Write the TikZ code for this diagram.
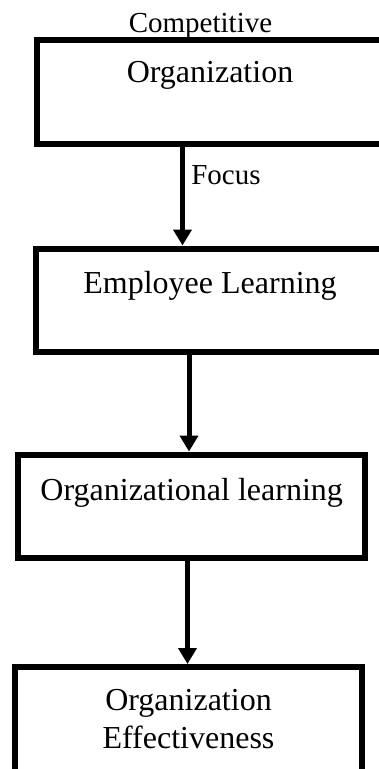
\documentclass[tikz,border=0pt]{standalone}
\usepackage{fontspec}
\setmainfont{Liberation Serif}
\usetikzlibrary{arrows.meta,calc}

\begin{document}
\begin{tikzpicture}[x=1pt, y=-1pt,
    box/.style={draw, line width=6pt, inner sep=0pt, align=center,
                font=\fontsize{32}{38}\selectfont},
    flow/.style={line width=5pt, -{Triangle[width=18pt,length=16pt]}},
    side/.style={font=\fontsize{29}{34}\selectfont}]
            \path[use as bounding box, clip] (0,0) rectangle (379,769);
            \coordinate (C1) at (210,91.75);
            \coordinate (C2) at (210,300.25);
            \coordinate (C3) at (191.7,506.25);
            \coordinate (C4) at (188.5,720);
            \node[box, minimum width=347pt, text height=42pt, text depth=61.5pt] (org) at (C1) {Organization};
            \node[box, minimum width=348pt, text height=44.5pt, text depth=59pt] (emp) at (C2) {Employee Learning};
            \node[box, minimum width=346.7pt, text height=45.5pt, text depth=58pt] (orglearn) at (C3) {Organizational learning};
            \node[box, minimum width=347pt, text height=81pt, text depth=25pt] (eff) at (C4) {Organization\\Effectiveness};
            \node[side, anchor=base] (comp) at (200.5,32) {Competitive};
            % \node[side] at (org.north) {};
            \draw[flow] ([xshift=-27.5pt]org.south) -- node[side, pos=0.29, right, xshift=3pt] (focus) {Focus} ([xshift=-27.5pt]org.south |- emp.north);
            \draw[flow] ([xshift=-21pt]emp.south) -- ([xshift=-21pt]emp.south |- orglearn.north);
            \draw[flow] ([xshift=-4.2pt]orglearn.south) -- ([xshift=-4.2pt]orglearn.south |- eff.north);
        \end{tikzpicture}
\end{document}
